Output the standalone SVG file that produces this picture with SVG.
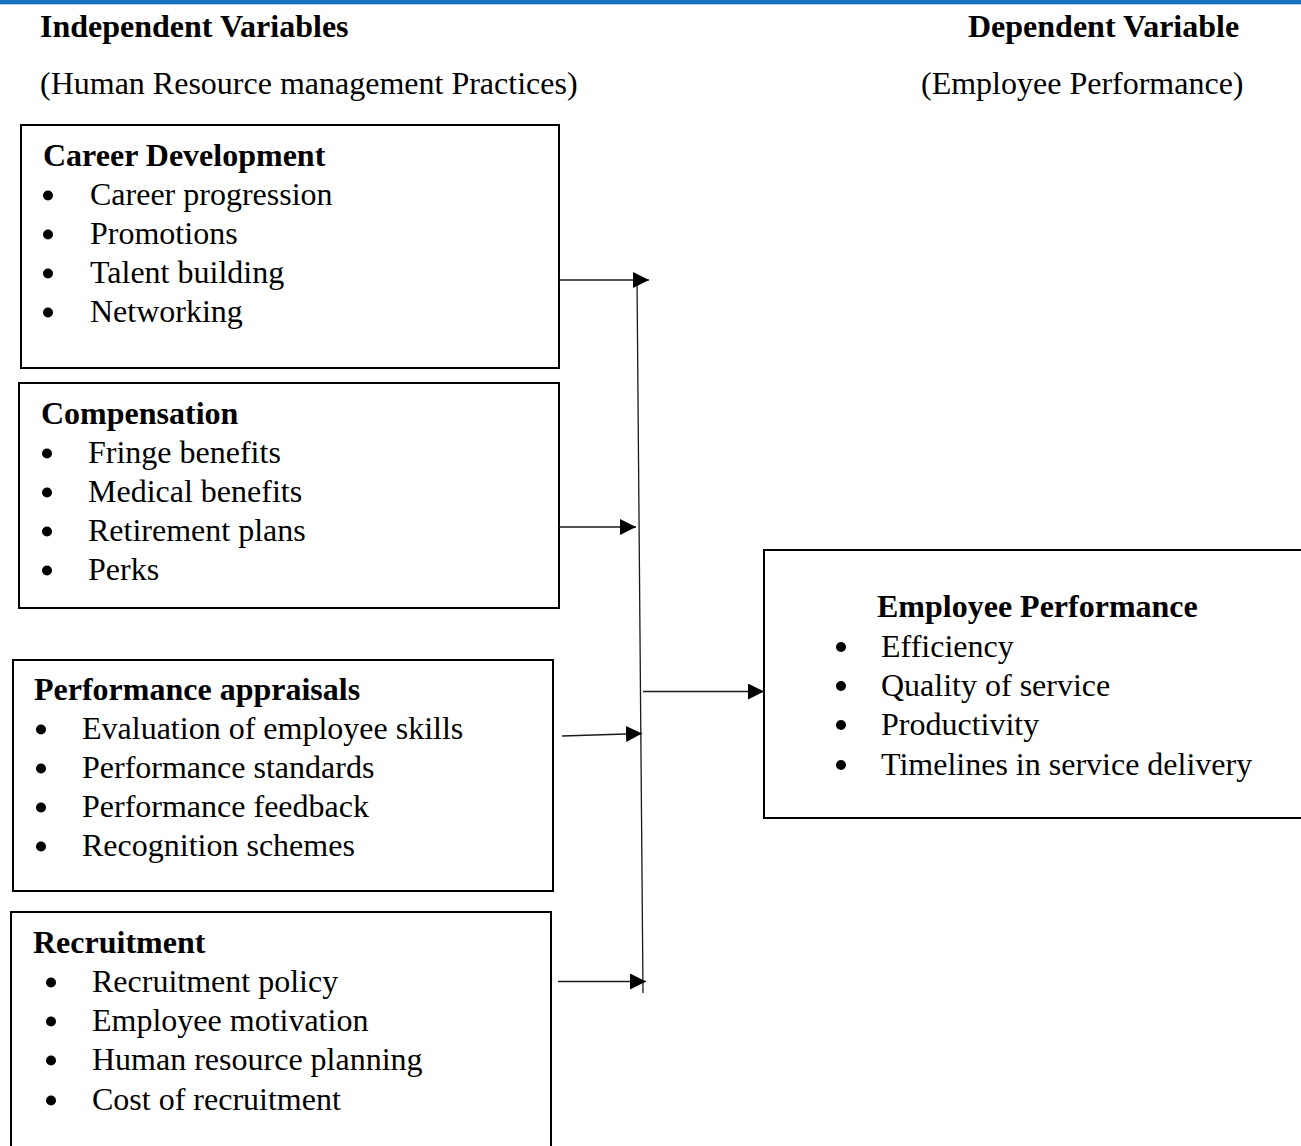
<svg xmlns="http://www.w3.org/2000/svg" width="1301" height="1146" viewBox="0 0 1301 1146">
<style>
text{font-family:"Liberation Serif","Times New Roman",serif;font-size:32px;fill:#000}
.h{font-weight:bold}
.box{fill:#fff;stroke:#000;stroke-width:2}
.bul{fill:#000}
.con{stroke:#1a1a1a;stroke-width:1.3;fill:none}
</style>
<defs>
<marker id="ah" markerUnits="userSpaceOnUse" markerWidth="17" markerHeight="16" refX="16" refY="8" orient="auto">
<path d="M0,0 L16,8 L0,16 z" fill="#000"/>
</marker>
</defs>
<rect width="1301" height="1146" fill="#fff"/>
<rect x="0" y="0" width="1301" height="4" fill="#1770c0"/>
<line x1="0" y1="4.5" x2="1301" y2="4.5" stroke="#b9cbe0" stroke-width="1"/>

<g id="header">
<text class="h" x="40" y="37">Independent Variables</text>
<text x="40" y="94">(Human Resource management Practices)</text>
<text class="h" x="968" y="37">Dependent Variable</text>
<text x="921" y="94">(Employee Performance)</text>
</g>

<g id="career">
<rect class="box" x="21" y="125" width="538" height="243"/>
<text class="h" x="43" y="166">Career Development</text>
<circle class="bul" cx="48" cy="195.5" r="5"/><text x="90" y="205">Career progression</text>
<circle class="bul" cx="48" cy="234.5" r="5"/><text x="90" y="244">Promotions</text>
<circle class="bul" cx="48" cy="273.5" r="5"/><text x="90" y="283">Talent building</text>
<circle class="bul" cx="48" cy="312.5" r="5"/><text x="90" y="322">Networking</text>
</g>

<g id="compensation">
<rect class="box" x="19" y="383" width="540" height="225"/>
<text class="h" x="41" y="424">Compensation</text>
<circle class="bul" cx="47" cy="453.5" r="5"/><text x="88" y="463">Fringe benefits</text>
<circle class="bul" cx="47" cy="492.5" r="5"/><text x="88" y="502">Medical benefits</text>
<circle class="bul" cx="47" cy="531.5" r="5"/><text x="88" y="541">Retirement plans</text>
<circle class="bul" cx="47" cy="570.5" r="5"/><text x="88" y="580">Perks</text>
</g>

<g id="appraisals">
<rect class="box" x="13" y="660" width="540" height="231"/>
<text class="h" x="34" y="700">Performance appraisals</text>
<circle class="bul" cx="41" cy="729.5" r="5"/><text x="82" y="739">Evaluation of employee skills</text>
<circle class="bul" cx="41" cy="768.5" r="5"/><text x="82" y="778">Performance standards</text>
<circle class="bul" cx="41" cy="807.5" r="5"/><text x="82" y="817">Performance feedback</text>
<circle class="bul" cx="41" cy="846.5" r="5"/><text x="82" y="856">Recognition schemes</text>
</g>

<g id="recruitment">
<rect class="box" x="11" y="912" width="540" height="260"/>
<text class="h" x="33" y="953">Recruitment</text>
<circle class="bul" cx="51" cy="982.5" r="5"/><text x="92" y="992">Recruitment policy</text>
<circle class="bul" cx="51" cy="1021.5" r="5"/><text x="92" y="1031">Employee motivation</text>
<circle class="bul" cx="51" cy="1060.5" r="5"/><text x="92" y="1070">Human resource planning</text>
<circle class="bul" cx="51" cy="1100.5" r="5"/><text x="92" y="1110">Cost of recruitment</text>
</g>

<g id="performance">
<rect class="box" x="764" y="550" width="560" height="268"/>
<text class="h" x="877" y="617">Employee Performance</text>
<circle class="bul" cx="841" cy="647" r="5"/><text x="881" y="657">Efficiency</text>
<circle class="bul" cx="841" cy="686" r="5"/><text x="881" y="696">Quality of service</text>
<circle class="bul" cx="841" cy="725" r="5"/><text x="881" y="735">Productivity</text>
<circle class="bul" cx="841" cy="765" r="5"/><text x="881" y="775">Timelines in service delivery</text>
</g>

<g id="connectors">
<line class="con" x1="637" y1="278" x2="643" y2="993"/>
<line class="con" x1="559" y1="280" x2="649" y2="280" marker-end="url(#ah)"/>
<line class="con" x1="559" y1="527" x2="636" y2="527" marker-end="url(#ah)"/>
<line class="con" x1="562" y1="736" x2="642" y2="733.5" marker-end="url(#ah)"/>
<line class="con" x1="558" y1="981.5" x2="646" y2="981.5" marker-end="url(#ah)"/>
<line class="con" x1="643" y1="691.5" x2="764" y2="691.5" marker-end="url(#ah)"/>
</g>
</svg>
